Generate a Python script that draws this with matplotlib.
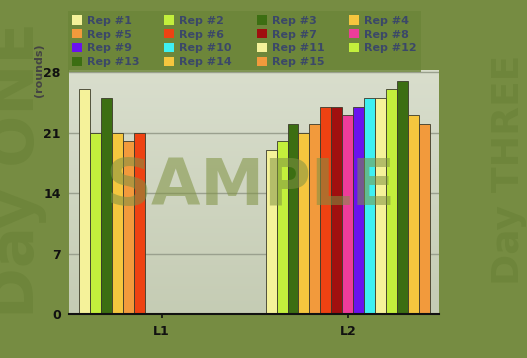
import matplotlib
matplotlib.use("Agg")
import matplotlib.pyplot as plt
import numpy as np
from matplotlib.patches import Patch
from matplotlib.colors import LinearSegmentedColormap

categories = ["L1", "L2"]
series_names = ["Rep #1", "Rep #2", "Rep #3", "Rep #4", "Rep #5", "Rep #6", "Rep #7", "Rep #8",
                "Rep #9", "Rep #10", "Rep #11", "Rep #12", "Rep #13", "Rep #14", "Rep #15"]
# values per series: [L1, L2]; None = no bar
values = [
    [26, 19], [21, 20], [25, 22], [21, 21], [20, 22], [21, 24],
    [None, 24], [None, 23], [None, 24], [None, 25], [None, 25],
    [None, 26], [None, 27], [None, 23], [None, 22],
]
colors = ["#f5f29a", "#c3ef3c", "#3c6e12", "#f5c63e", "#f29a3c", "#ee4212", "#a00f0f", "#ee3c9a",
          "#6a12ee", "#3ef0f2", "#f5f29a", "#c3ef3c", "#3c6e12", "#f5c63e", "#f29a3c"]
yticks = [0, 7, 14, 21, 28]

BG = "#768c42"
W, H = 527, 358
fig = plt.figure(figsize=(W / 100, H / 100), dpi=100, facecolor=BG)

# watermarks
fig.text(18 / W, 1 - 170 / H, "Day ONE", rotation=90, fontsize=44, fontweight="bold",
         color="#6e853b", ha="center", va="center")
fig.text(509 / W, 1 - 170 / H, "Day THREE", rotation=90, fontsize=27, fontweight="bold",
         color="#6e853b", ha="center", va="center")

ax = fig.add_axes([69 / W, 1 - 314 / H, (439 - 69) / W, (314 - 70) / H])
ax.set_facecolor("none")
grad = np.linspace(0, 1, 256).reshape(-1, 1)
cmap = LinearSegmentedColormap.from_list("bg", ["#c5ccb4", "#d9decd"])
ax.imshow(grad, extent=[0, 1, 0, 1], transform=ax.transAxes, cmap=cmap, aspect="auto",
          origin="lower", zorder=0)

n = len(series_names)
slot = 0.0588
x = np.arange(len(categories))
for i, (name, vals, c) in enumerate(zip(series_names, values, colors)):
    off = (i - (n - 1) / 2) * slot
    xs = [x[j] + off for j, v in enumerate(vals) if v is not None]
    vs = [v for v in vals if v is not None]
    ax.bar(xs, vs, width=slot, color=c, edgecolor="#3a3a2a", linewidth=0.6, zorder=3, label=name)

ax.set_xlim(-0.497, 1.49)
ax.set_ylim(0, 28.25)
ax.set_yticks(yticks)
ax.set_yticklabels([str(t) for t in yticks], fontsize=9, fontweight="bold", color="#111111")
ax.set_xticks(x)
ax.set_xticklabels(categories, fontsize=9, fontweight="bold", color="#111111")
ax.tick_params(axis="y", length=0, pad=6)
ax.tick_params(axis="x", length=3, width=1.2, color="#111111", pad=5)
ax.grid(axis="y", color="#9aa08e", linewidth=1, zorder=1)
for s in ["top", "right", "left"]:
    ax.spines[s].set_visible(False)
ax.spines["bottom"].set_color("#111111")
ax.spines["bottom"].set_linewidth(1.5)
ax.spines["bottom"].set_zorder(5)
ax.set_axisbelow(True)

fig.text(39 / W, 1 - 70 / H, "(rounds)", rotation=90, fontsize=8, fontweight="bold",
         color="#444444", ha="center", va="center")

# SAMPLE watermark
fig.text(250 / W, 1 - 187 / H, "SAMPLE", fontsize=46, fontweight="bold", color="#7f9242",
         alpha=0.55, ha="center", va="center", zorder=10)

# legend: row-major order in 4 columns
ncol = 4
order = [i for c in range(ncol) for i in range(c, len(series_names), ncol)]
handles = [Patch(facecolor=colors[i], edgecolor="none") for i in order]
labels = [series_names[i] for i in order]
leg = fig.legend(handles, labels, ncol=ncol, loc="upper left",
                 bbox_to_anchor=(68 / W, 1 - 11 / H), frameon=True,
                 prop={"weight": "bold", "size": 8}, handlelength=0.9, handleheight=0.9,
                 handletextpad=0.45, columnspacing=2.2, labelspacing=0.3,
                 borderpad=0.4, borderaxespad=0)
leg.get_frame().set_facecolor("#6b8538")
leg.get_frame().set_edgecolor("none")
leg.get_frame().set_boxstyle("square", pad=0)
for t in leg.get_texts():
    t.set_color("#3b4868")

fig.savefig("out.png", dpi=100, facecolor=BG)
